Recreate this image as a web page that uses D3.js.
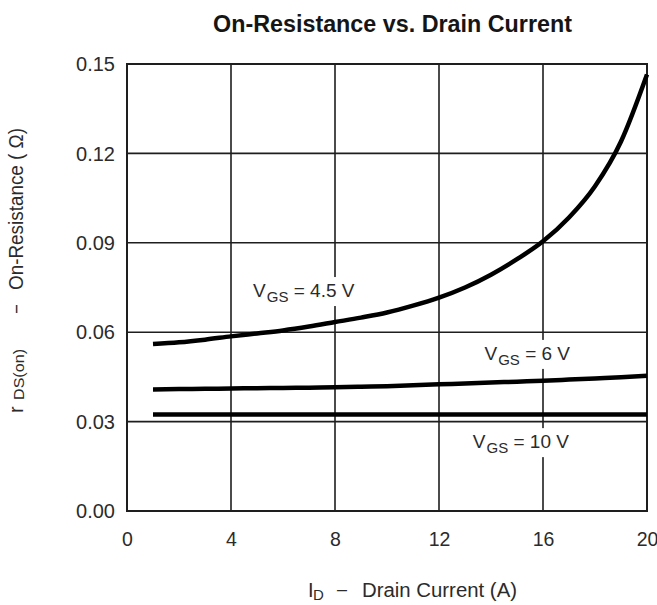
<!DOCTYPE html>
<html>
<head>
<meta charset="utf-8">
<script src="https://cdn.jsdelivr.net/npm/d3@7"></script>
<style>
  html, body { margin: 0; padding: 0; background: #fff; }
  svg { display: block; }
  text { font-family: "Liberation Sans", Arial, sans-serif; fill: #2b2b2b; }
</style>
</head>
<body>
<svg id="chart" width="657" height="605"></svg>
<script>
// Drain current (A) sample points
const current = [1, 2, 3, 4, 5, 6, 7, 8, 9, 10, 11, 12, 13, 14, 15, 16, 17, 18, 19, 20];
// On-resistance (ohm) for each gate voltage
const rVgs45 = [0.0560, 0.0566, 0.0575, 0.0586, 0.0596, 0.0606, 0.0619, 0.0634, 0.0649, 0.0666, 0.0689, 0.0716, 0.0750, 0.0793, 0.0845, 0.0905, 0.0985, 0.1090, 0.1240, 0.1465];
const rVgs6  = [0.0408, 0.0409, 0.0410, 0.0411, 0.0412, 0.0413, 0.0414, 0.0415, 0.0417, 0.0419, 0.0422, 0.0425, 0.0428, 0.0431, 0.0434, 0.0437, 0.0441, 0.0445, 0.0449, 0.0454];
const rVgs10 = [0.0324, 0.0324, 0.0324, 0.0324, 0.0324, 0.0324, 0.0324, 0.0324, 0.0324, 0.0324, 0.0324, 0.0324, 0.0324, 0.0324, 0.0324, 0.0324, 0.0324, 0.0324, 0.0324, 0.0324];
const xTicks = [0, 4, 8, 12, 16, 20];
const yTicks = [0.00, 0.03, 0.06, 0.09, 0.12, 0.15];
// Label anchors (start of text) in data units
const seriesLabels = [
  { vgs: "4.5 V", x: 4.85, y: 0.0718 },
  { vgs: "6 V", x: 13.75, y: 0.0507 },
  { vgs: "10 V", x: 13.3, y: 0.0211 }
];

(function () {
  const svg = d3.select("#chart");
  const plotLeft = 127, plotRight = 647, plotTop = 64, plotBottom = 511;
  const fontFam = "Liberation Sans, Arial, sans-serif";

  const x = d3.scaleLinear().domain([0, 20]).range([plotLeft, plotRight]);
  const y = d3.scaleLinear().domain([0, 0.15]).range([plotBottom, plotTop]);

  // Title
  svg.append("text")
    .attr("x", 213).attr("y", 32)
    .style("font-size", "23px").style("font-weight", "bold").style("fill", "#151515")
    .attr("textLength", 359).attr("lengthAdjust", "spacingAndGlyphs")
    .text("On-Resistance vs. Drain Current");

  // Grid
  const grid = svg.append("g").attr("stroke", "#1e1e1e").attr("stroke-width", 1.6);
  grid.selectAll("line.v").data(xTicks).join("line").attr("class", "v")
    .attr("x1", d => x(d)).attr("x2", d => x(d))
    .attr("y1", plotTop).attr("y2", plotBottom);
  grid.selectAll("line.h").data(yTicks).join("line").attr("class", "h")
    .attr("x1", plotLeft).attr("x2", plotRight)
    .attr("y1", d => y(d)).attr("y2", d => y(d));
  svg.append("rect")
    .attr("x", plotLeft).attr("y", plotTop)
    .attr("width", plotRight - plotLeft).attr("height", plotBottom - plotTop)
    .attr("fill", "none").attr("stroke", "#1e1e1e").attr("stroke-width", 2);

  // Axes tick labels
  const xAxis = d3.axisBottom(x).tickValues(xTicks).tickSize(0).tickPadding(21).tickFormat(d3.format("d"));
  const gx = svg.append("g").attr("transform", `translate(0,${plotBottom})`).call(xAxis);
  gx.select(".domain").remove();
  gx.selectAll("text").style("font-size", "19.5px").style("fill", "#2b2b2b").style("font-family", fontFam);

  const yAxis = d3.axisLeft(y).tickValues(yTicks).tickSize(0).tickPadding(12).tickFormat(d3.format(".2f"));
  const gy = svg.append("g").attr("transform", `translate(${plotLeft},0)`).call(yAxis);
  gy.select(".domain").remove();
  gy.selectAll("text").style("font-size", "20px").style("fill", "#2b2b2b").style("font-family", fontFam)
    .attr("dy", "0.33em");

  // Curves
  const line = d3.line().x((d, i) => x(current[i])).y(d => y(d)).curve(d3.curveMonotoneX);
  [rVgs45, rVgs6, rVgs10].forEach(s => {
    svg.append("path").datum(s)
      .attr("d", line)
      .attr("fill", "none").attr("stroke", "#000")
      .attr("stroke-width", 4.5).attr("stroke-linecap", "butt");
  });

  // Curve labels on white backing
  seriesLabels.forEach(l => {
    const g = svg.append("g");
    const t = g.append("text")
      .attr("x", x(l.x)).attr("y", y(l.y))
      .style("font-size", "19px");
    t.append("tspan").text("V");
    t.append("tspan").attr("dx", 1).attr("dy", 5).style("font-size", "15px").text("GS");
    t.append("tspan").attr("dy", -5).text(" = " + l.vgs);
    const bb = t.node().getBBox();
    g.insert("rect", "text")
      .attr("x", bb.x - 4).attr("y", bb.y - 3)
      .attr("width", bb.width + 8).attr("height", bb.height + 4)
      .attr("fill", "#fff");
  });

  // X axis title
  svg.append("text").attr("x", 308).attr("y", 597).style("font-size", "20px").text("I");
  svg.append("text").attr("x", 313).attr("y", 600).style("font-size", "15px").text("D");
  svg.append("text").attr("x", 337).attr("y", 596).style("font-size", "20px")
    .attr("textLength", 10).attr("lengthAdjust", "spacingAndGlyphs").text("\u2013");
  svg.append("text").attr("x", 362).attr("y", 597).style("font-size", "20px")
    .attr("textLength", 155).attr("lengthAdjust", "spacingAndGlyphs").text("Drain Current (A)");

  // Y axis title (rotated, reading upward)
  const yg = svg.append("g").attr("transform", "translate(23,0) rotate(-90)");
  yg.append("text").attr("x", -413).attr("y", 0).style("font-size", "20px").text("r");
  yg.append("text").attr("x", -400).attr("y", 1).style("font-size", "15px")
    .attr("textLength", 51).attr("lengthAdjust", "spacingAndGlyphs").text("DS(on)");
  yg.append("text").attr("x", -313).attr("y", -1).style("font-size", "20px")
    .attr("textLength", 8).attr("lengthAdjust", "spacingAndGlyphs").text("\u2013");
  yg.append("text").attr("x", -290).attr("y", 0).style("font-size", "20px")
    .attr("textLength", 162).attr("lengthAdjust", "spacingAndGlyphs").text("On-Resistance ( \u03A9)");
})();
</script>
</body>
</html>
